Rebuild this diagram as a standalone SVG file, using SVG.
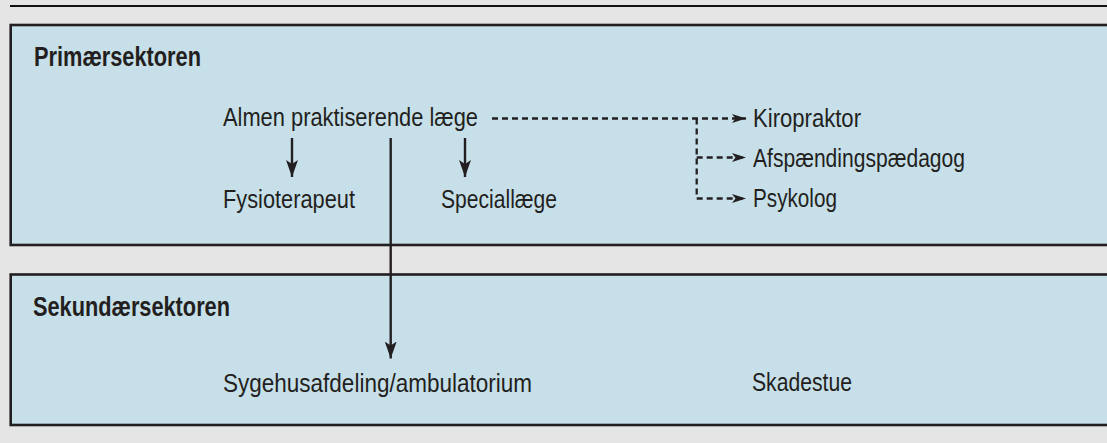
<svg xmlns="http://www.w3.org/2000/svg" width="1107" height="443" viewBox="0 0 1107 443">
<defs>
<style>
.box{fill:#c7dfe9;stroke:#231f20;stroke-width:2.6}
.t{font-family:"Liberation Sans Narrow","Liberation Sans",Arial,sans-serif;font-size:25px;fill:#231f20}
.h{font-family:"Liberation Sans Narrow","Liberation Sans",Arial,sans-serif;font-size:27px;font-weight:bold;fill:#231f20}
.solid{stroke:#231f20;stroke-width:2.4;fill:none}
.dash{stroke:#231f20;stroke-width:2.3;fill:none;stroke-dasharray:6 4}
</style>
<marker id="ah" viewBox="0 0 14 9" refX="14" refY="4.5" markerWidth="14" markerHeight="9" markerUnits="userSpaceOnUse" orient="auto">
<path d="M0,0 L14,4.5 L0,9 L3.5,4.5 z" fill="#231f20"/>
</marker>
<marker id="av" viewBox="0 0 17 12" refX="17" refY="6" markerWidth="17" markerHeight="12" markerUnits="userSpaceOnUse" orient="auto">
<path d="M0,0 L17,6 L0,12 L4,6 z" fill="#231f20"/>
</marker>
</defs>
<rect x="0" y="0" width="1107" height="443" fill="#e5e5e5"/>
<line x1="10" y1="6" x2="1107" y2="6" stroke="#111" stroke-width="2.2"/>
<g id="primaer">
<rect class="box" x="10.7" y="25" width="1110" height="220"/>
<text class="h" x="34" y="66" textLength="167" lengthAdjust="spacingAndGlyphs">Primærsektoren</text>
</g>
<g id="sekundaer">
<rect class="box" x="10.7" y="274.5" width="1110" height="150.5"/>
<text class="h" x="33" y="316" textLength="197" lengthAdjust="spacingAndGlyphs">Sekundærsektoren</text>
</g>
<g id="almen"><text class="t" x="223" y="126" textLength="255" lengthAdjust="spacingAndGlyphs">Almen praktiserende læge</text></g>
<g id="fysio"><text class="t" x="223" y="208" textLength="132" lengthAdjust="spacingAndGlyphs">Fysioterapeut</text></g>
<g id="special"><text class="t" x="441" y="208" textLength="116" lengthAdjust="spacingAndGlyphs">Speciallæge</text></g>
<g id="kiro"><text class="t" x="753" y="127" textLength="108" lengthAdjust="spacingAndGlyphs">Kiropraktor</text></g>
<g id="afsp"><text class="t" x="753" y="167" textLength="212" lengthAdjust="spacingAndGlyphs">Afspændingspædagog</text></g>
<g id="psyk"><text class="t" x="753" y="207" textLength="84" lengthAdjust="spacingAndGlyphs">Psykolog</text></g>
<g id="sygehus"><text class="t" x="223" y="392" textLength="309" lengthAdjust="spacingAndGlyphs">Sygehusafdeling/ambulatorium</text></g>
<g id="skade"><text class="t" x="752" y="391" textLength="100" lengthAdjust="spacingAndGlyphs">Skadestue</text></g>
<g id="connectors">
<line class="solid" x1="292" y1="138" x2="292" y2="177" marker-end="url(#av)"/>
<line class="solid" x1="465" y1="138" x2="465" y2="177" marker-end="url(#av)"/>
<line class="solid" x1="390.7" y1="138" x2="390.7" y2="358.5" marker-end="url(#av)"/>
<line class="dash" x1="492" y1="118.5" x2="746" y2="118.5" marker-end="url(#ah)"/>
<line class="dash" x1="696.7" y1="118.5" x2="696.7" y2="198.5"/>
<line class="dash" x1="696.7" y1="157.5" x2="746" y2="157.5" marker-end="url(#ah)"/>
<line class="dash" x1="696.7" y1="198.5" x2="746" y2="198.5" marker-end="url(#ah)"/>
</g>
</svg>
